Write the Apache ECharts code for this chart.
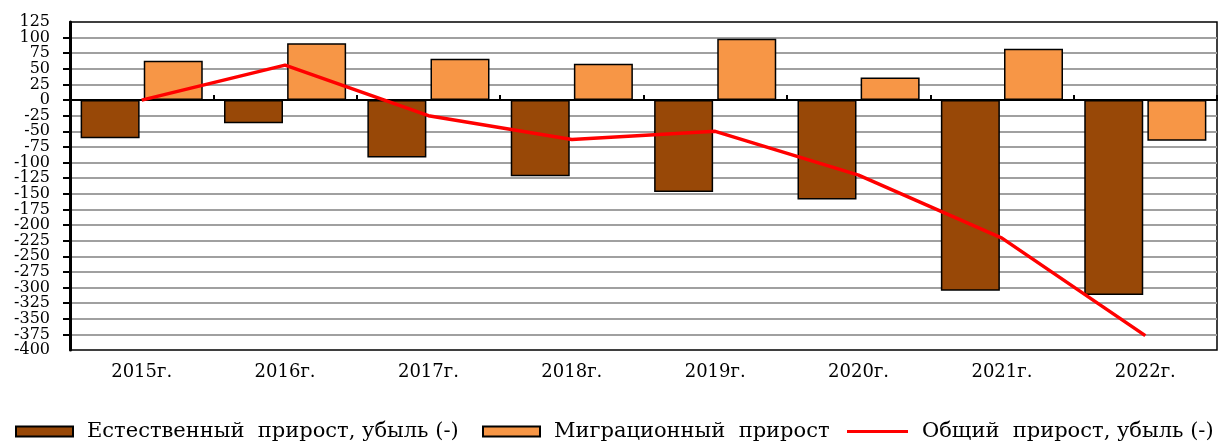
<!DOCTYPE html>
<html>
<head>
<meta charset="utf-8">
<script src="https://cdn.jsdelivr.net/npm/echarts@6/dist/echarts.min.js"></script>
<style>
html,body{margin:0;padding:0;background:#fff;}
#chart{width:1219px;height:444px;}
</style>
</head>
<body>
<div id="chart"></div>
<script>
const categories = ['2015г.', '2016г.', '2017г.', '2018г.', '2019г.', '2020г.', '2021г.', '2022г.'];
const naturalGrowth = [-61, -37, -92, -122, -147, -159, -305, -312];
const migrationGrowth = [63, 91, 66, 58, 98, 36, 82, -65];
const totalGrowth = [0, 56, -25, -63, -50, -120, -221, -377];
const seriesNames = ['Естественный  прирост, убыль (-)', 'Миграционный  прирост', 'Общий  прирост, убыль (-)'];
const yMin = -400, yMax = 125, yStep = 25;

const serif = 'DejaVu Serif';
const chart = echarts.init(document.getElementById('chart'), null, {renderer: 'canvas'});

function legendFor(name, left, extra) {
  return Object.assign({
    data: [{name: name, icon: 'rect'}],
    left: left,
    top: 421,
    padding: 0,
    itemWidth: 57,
    itemHeight: 10,
    formatter: function (n) { return '{t|' + n + '}'; },
    textStyle: {
      rich: {
        t: {fontFamily: serif, fontSize: 21, color: '#000', padding: [0, 0, 0, 9]}
      }
    }
  }, extra || {});
}

const plotW = 1219 - 70 - 2;

const option = {
  animation: false,
  backgroundColor: '#fff',
  grid: {
    left: 70, right: 2, top: 22, bottom: 94,
    outerBoundsMode: 'none',
    show: true, borderColor: '#000', borderWidth: 1.5
  },
  legend: [
    legendFor(seriesNames[0], 15),
    legendFor(seriesNames[1], 482),
    legendFor(seriesNames[2], 847, {
      itemWidth: 61, itemHeight: 3,
      data: [{name: seriesNames[2], icon: 'rect', itemStyle: {color: '#ff0000', borderWidth: 0}}]
    })
  ],
  xAxis: [
    {
      type: 'category', data: categories, position: 'bottom',
      axisLine: {show: false, onZero: false},
      axisTick: {show: false},
      axisLabel: {fontFamily: serif, fontSize: 18, color: '#000', margin: 13}
    },
    {
      type: 'category', data: categories, position: 'top',
      axisLine: {show: true, onZero: true, onZeroAxisIndex: 0, lineStyle: {color: '#000', width: 2}},
      axisTick: {show: true, length: 5, lineStyle: {color: '#000', width: 2}},
      axisLabel: {show: false}
    },
    {
      type: 'category', data: categories, position: 'top',
      axisLine: {show: true, onZero: true, onZeroAxisIndex: 1, lineStyle: {color: '#000', width: 2}},
      axisTick: {show: true, length: 5, lineStyle: {color: '#000', width: 2}},
      axisLabel: {show: false}
    }
  ],
  yAxis: [
    {
      type: 'value', min: yMin, max: yMax, interval: yStep, position: 'left',
      axisLine: {show: true, lineStyle: {color: '#000', width: 3}},
      axisTick: {show: true, length: 7, lineStyle: {color: '#000', width: 2}},
      axisLabel: {
        fontFamily: serif, fontSize: 16, color: '#000', margin: 20,
        showMinLabel: false, showMaxLabel: false
      },
      splitLine: {show: true, showMinLine: false, showMaxLine: false, lineStyle: {color: '#a0a0a0', width: 2}}
    },
    {
      type: 'value', min: yMin, max: yMax, interval: yStep, position: 'right', offset: -plotW,
      axisLine: {show: false},
      axisTick: {show: false},
      splitLine: {show: false},
      axisLabel: {
        inside: true,
        fontFamily: serif, fontSize: 16, color: '#000', margin: 20,
        showMinLabel: true, showMaxLabel: true,
        formatter: function (v) { return (v === yMin || v === yMax) ? String(v) : ''; }
      }
    }
  ],
  series: [
    {
      name: seriesNames[0], type: 'bar', data: naturalGrowth,
      xAxisIndex: 0, yAxisIndex: 0,
      barWidth: 59, barGap: '7%',
      itemStyle: {color: '#984807', borderColor: '#000', borderWidth: 1.5}
    },
    {
      name: seriesNames[1], type: 'bar', data: migrationGrowth,
      xAxisIndex: 0, yAxisIndex: 0,
      barWidth: 59, barGap: '7%',
      itemStyle: {color: '#F79646', borderColor: '#000', borderWidth: 1.5}
    },
    {
      name: seriesNames[2], type: 'line', data: totalGrowth,
      xAxisIndex: 0, yAxisIndex: 0,
      symbol: 'none', z: 5,
      lineStyle: {color: '#ff0000', width: 3.5},
      itemStyle: {color: '#ff0000'}
    }
  ]
};
chart.setOption(option);
</script>
</body>
</html>
